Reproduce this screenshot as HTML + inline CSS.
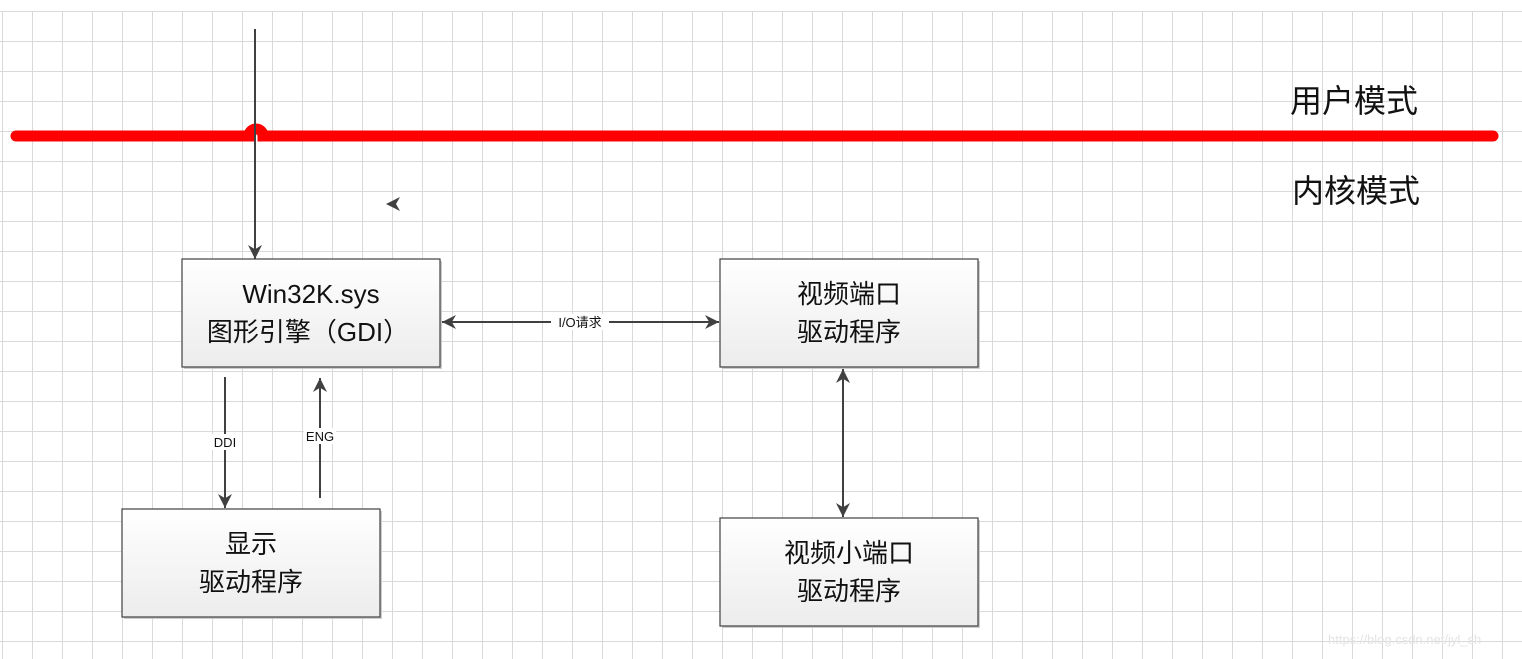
<!DOCTYPE html>
<html><head><meta charset="utf-8"><style>
html,body{margin:0;padding:0;background:#fff;}
svg{display:block;}
text{font-family:"Liberation Sans","Noto Sans CJK SC",sans-serif;}
</style></head><body>
<svg width="1522" height="659" viewBox="0 0 1522 659" xmlns="http://www.w3.org/2000/svg">
<defs>
<pattern id="g" x="2" y="11" width="30" height="30" patternUnits="userSpaceOnUse">
<path d="M0 0H30M0 0V30" stroke="#d9d9d9" stroke-width="2" fill="none"/>
</pattern>
<linearGradient id="bg" x1="0" y1="0" x2="0" y2="1"><stop offset="0" stop-color="#ffffff"/><stop offset="1" stop-color="#ececec"/></linearGradient>
<marker id="ah" viewBox="0 0 10 10" refX="10" refY="5" markerWidth="14" markerHeight="14" markerUnits="userSpaceOnUse" orient="auto-start-reverse"><path d="M0 0L10 5L0 10L3 5Z" fill="#404040"/></marker>
</defs>
<rect x="0" y="11" width="1522" height="648" fill="url(#g)"/>
<rect x="0" y="0" width="1522" height="10" fill="#fff"/>
<!-- red line -->
<path d="M16 136H249A7 7 0 0 1 263 136H1493" stroke="#ff0000" stroke-width="11" stroke-linecap="round" fill="none"/>
<text x="1290" y="112" font-size="32" fill="#111">用户模式</text>
<text x="1292" y="202" font-size="32" fill="#111">内核模式</text>
<!-- arrow down -->
<line x1="255" y1="29" x2="255" y2="259" stroke="#404040" stroke-width="2" marker-end="url(#ah)"/>
<path d="M386 204L400 197L396 204L400 211Z" fill="#404040"/>
<!-- boxes -->
<g stroke="#404040" stroke-width="1.2" fill="url(#bg)">
<rect x="184" y="261" width="258" height="108" fill="#ccc" stroke="none"/>
<rect x="182" y="259" width="258" height="108"/>
<rect x="722" y="261" width="258" height="108" fill="#ccc" stroke="none"/>
<rect x="720" y="259" width="258" height="108"/>
<rect x="124" y="511" width="258" height="108" fill="#ccc" stroke="none"/>
<rect x="122" y="509" width="258" height="108"/>
<rect x="722" y="520" width="258" height="108" fill="#ccc" stroke="none"/>
<rect x="720" y="518" width="258" height="108"/>
</g>
<g font-size="26" fill="#111" text-anchor="middle">
<text x="311" y="303">Win32K.sys</text>
<text x="308" y="341">图形引擎（GDI）</text>
<text x="849" y="303">视频端口</text>
<text x="849" y="341">驱动程序</text>
<text x="251" y="553">显示</text>
<text x="251" y="591">驱动程序</text>
<text x="849" y="562">视频小端口</text>
<text x="849" y="600">驱动程序</text>
</g>
<!-- connectors -->
<g stroke="#404040" stroke-width="2" fill="none">
<line x1="442" y1="322" x2="719" y2="322" marker-start="url(#ah)" marker-end="url(#ah)"/>
<line x1="225" y1="377" x2="225" y2="508" marker-end="url(#ah)"/>
<line x1="320" y1="498" x2="320" y2="378" marker-end="url(#ah)"/>
<line x1="843" y1="369" x2="843" y2="517" marker-start="url(#ah)" marker-end="url(#ah)"/>
</g>
<rect x="551" y="314" width="58" height="16" fill="#fff"/>
<text x="580" y="327" font-size="13" text-anchor="middle" fill="#111">I/O请求</text>
<rect x="210" y="434" width="30" height="16" fill="#fff"/>
<text x="225" y="447" font-size="13" text-anchor="middle" fill="#111">DDI</text>
<rect x="304" y="428" width="32" height="16" fill="#fff"/>
<text x="320" y="441" font-size="13" text-anchor="middle" fill="#111">ENG</text>
<text x="1328" y="644" font-size="13" fill="#e4e4e4">https://blog.csdn.net/jyl_sh</text>
</svg>
</body></html>
